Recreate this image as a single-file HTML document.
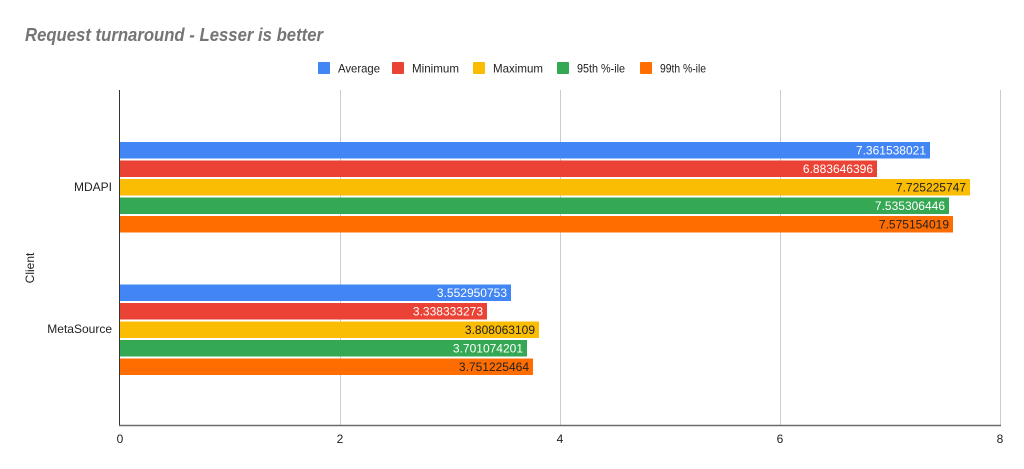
<!DOCTYPE html>
<html><head><meta charset="utf-8"><style>body{margin:0;background:#fff}svg{display:block}text{font-family:"Liberation Sans",sans-serif}</style></head>
<body>
<svg width="1024" height="469" viewBox="0 0 1024 469" xmlns="http://www.w3.org/2000/svg">
<rect width="1024" height="469" fill="#fff"/>
<text x="25" y="41" font-size="18" font-weight="bold" font-style="italic" fill="#757575" textLength="298" lengthAdjust="spacingAndGlyphs">Request turnaround - Lesser is better</text>
<g font-size="12" fill="#222">
<rect x="318" y="62" width="12" height="12" rx="1" fill="#4285f4"/><text x="338" y="72.5" textLength="42" lengthAdjust="spacingAndGlyphs">Average</text>
<rect x="392" y="62" width="12" height="12" rx="1" fill="#ea4335"/><text x="412" y="72.5" textLength="47" lengthAdjust="spacingAndGlyphs">Minimum</text>
<rect x="473" y="62" width="12" height="12" rx="1" fill="#fbbc04"/><text x="493" y="72.5" textLength="50" lengthAdjust="spacingAndGlyphs">Maximum</text>
<rect x="557" y="62" width="12" height="12" rx="1" fill="#34a853"/><text x="577" y="72.5" textLength="48" lengthAdjust="spacingAndGlyphs">95th %-ile</text>
<rect x="640" y="62" width="12" height="12" rx="1" fill="#ff6d01"/><text x="660" y="72.5" textLength="46" lengthAdjust="spacingAndGlyphs">99th %-ile</text>
</g>
<g stroke="#ccc" stroke-width="1">
<line x1="340.5" y1="90" x2="340.5" y2="425"/><line x1="560.5" y1="90" x2="560.5" y2="425"/><line x1="780.5" y1="90" x2="780.5" y2="425"/><line x1="1000.5" y1="90" x2="1000.5" y2="425"/>
</g>
<g font-size="12">
<rect x="120" y="142" width="810" height="16.5" fill="#4285f4"/><text x="926" y="154.5" text-anchor="end" fill="#fff">7.361538021</text>
<rect x="120" y="160.5" width="757" height="16.5" fill="#ea4335"/><text x="873" y="173" text-anchor="end" fill="#fff">6.883646396</text>
<rect x="120" y="179" width="850" height="16.5" fill="#fbbc04"/><text x="966" y="191.5" text-anchor="end" fill="#222">7.725225747</text>
<rect x="120" y="197.5" width="829" height="16.5" fill="#34a853"/><text x="945" y="210" text-anchor="end" fill="#fff">7.535306446</text>
<rect x="120" y="216" width="833" height="16.5" fill="#ff6d01"/><text x="949" y="228.5" text-anchor="end" fill="#222">7.575154019</text>

<rect x="120" y="284.5" width="391" height="16.5" fill="#4285f4"/><text x="507" y="297" text-anchor="end" fill="#fff">3.552950753</text>
<rect x="120" y="303" width="367" height="16.5" fill="#ea4335"/><text x="483" y="315.5" text-anchor="end" fill="#fff">3.338333273</text>
<rect x="120" y="321.5" width="419" height="16.5" fill="#fbbc04"/><text x="535" y="334" text-anchor="end" fill="#222">3.808063109</text>
<rect x="120" y="340" width="407" height="16.5" fill="#34a853"/><text x="523" y="352.5" text-anchor="end" fill="#fff">3.701074201</text>
<rect x="120" y="358.5" width="413" height="16.5" fill="#ff6d01"/><text x="529" y="371" text-anchor="end" fill="#222">3.751225464</text>
</g>
<line x1="119.5" y1="90" x2="119.5" y2="426" stroke="#333" stroke-width="1"/>
<line x1="119" y1="425.5" x2="1001" y2="425.5" stroke="#6b6b6b" stroke-width="1.5"/>
<g font-size="12" fill="#222">
<text x="112" y="191" text-anchor="end">MDAPI</text>
<text x="112" y="333" text-anchor="end">MetaSource</text>
<text transform="translate(34,268) rotate(-90)" text-anchor="middle">Client</text>
<text x="120" y="443" text-anchor="middle">0</text>
<text x="340" y="443" text-anchor="middle">2</text>
<text x="560" y="443" text-anchor="middle">4</text>
<text x="780" y="443" text-anchor="middle">6</text>
<text x="1000" y="443" text-anchor="middle">8</text>
</g>
</svg>
</body></html>
